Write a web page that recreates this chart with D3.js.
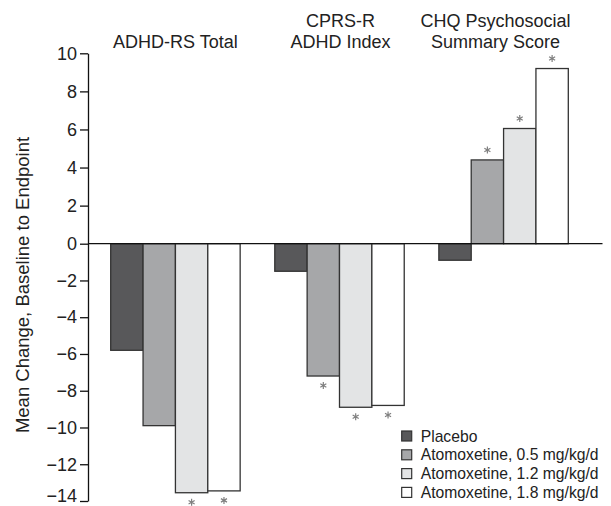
<!DOCTYPE html>
<html>
<head>
<meta charset="utf-8">
<script src="https://cdn.jsdelivr.net/npm/d3@7"></script>
<style>
  body { margin: 0; background: #fff; }
  svg { display: block; font-family: "Liberation Sans", Arial, Helvetica, sans-serif; }
</style>
</head>
<body>
<svg id="chart" width="611" height="506"></svg>
<script>

// measures (one per group of bars)
let measures = ["ADHD-RS Total", "CPRS-R ADHD Index", "CHQ Psychosocial Summary Score"];
let titleLines = [["ADHD-RS Total"], ["CPRS-R", "ADHD Index"], ["CHQ Psychosocial", "Summary Score"]];

let series = ["Placebo", "Atomoxetine, 0.5 mg/kg/d", "Atomoxetine, 1.2 mg/kg/d", "Atomoxetine, 1.8 mg/kg/d"];

let placebo = [-5.8, -1.5, -0.9];
let atx05 = [-9.9, -7.2, 4.4];
let atx12 = [-13.55, -8.9, 6.05];
let atx18 = [-13.45, -8.8, 9.2];

// * = significant vs placebo
let sig05 = [false, true, true];
let sig12 = [true, true, true];
let sig18 = [true, true, true];

let yTicks = [10, 8, 6, 4, 2, 0, -2, -4, -6, -8, -10, -12, -14];

let colors = ["#58585a", "#a6a7a9", "#e3e4e5", "#ffffff"];


let svg = d3.select("#chart");

// the scan is a little taller above zero than below it
let y = d3.scaleLinear()
    .domain([-14, 0, 10])
    .range([501, 243.7, 53.3]);

let x0 = d3.scaleBand()
    .domain(measures)
    .range([110.7, 568.3])
    .paddingInner(0.211)
    .paddingOuter(0);

let x1 = d3.scaleBand()
    .domain(series)
    .range([0, x0.bandwidth()]);

let allValues = [placebo, atx05, atx12, atx18];
let allSig = [[false, false, false], sig05, sig12, sig18];

let rows = [];
measures.forEach((m, i) => {
  series.forEach((s, j) => {
    rows.push({measure: m, series: s, value: allValues[j][i], sig: allSig[j][i], color: colors[j]});
  });
});


// bars
svg.append("g")
  .selectAll("rect")
  .data(rows)
  .join("rect")
    .attr("x", d => x0(d.measure) + x1(d.series))
    .attr("y", d => y(Math.max(0, d.value)))
    .attr("width", x1.bandwidth())
    .attr("height", d => Math.abs(y(d.value) - y(0)))
    .attr("fill", d => d.color)
    .attr("stroke", "#333")
    .attr("stroke-width", 1.3);

// significance asterisks, drawn as little star marks
let star = d3.symbol().type(d3.symbolAsterisk || d3.symbolCross).size(34);

svg.append("g")
  .selectAll("path")
  .data(rows.filter(d => d.sig))
  .join("path")
    .attr("transform", d => {
      let cx = x0(d.measure) + x1(d.series) + x1.bandwidth() / 2;
      let cy = d.value > 0 ? y(d.value) - 10 : y(d.value) + 9.5;
      return `translate(${cx},${cy})`;
    })
    .attr("d", star)
    .attr("fill", "none")
    .attr("stroke", "#808080")
    .attr("stroke-width", 1.2);

// zero line
svg.append("line")
  .attr("x1", 88).attr("x2", 602.5)
  .attr("y1", y(0)).attr("y2", y(0))
  .attr("stroke", "#111")
  .attr("stroke-width", 1.3);

// y axis
let yAxis = svg.append("g")
  .attr("transform", "translate(88,0)")
  .call(d3.axisLeft(y).tickValues(yTicks).tickSize(8).tickSizeOuter(0).tickPadding(3));

yAxis.select(".domain").attr("stroke", "#111").attr("stroke-width", 1.3);
yAxis.selectAll(".tick line").attr("stroke", "#111").attr("stroke-width", 1.3);
yAxis.selectAll(".tick text")
  .attr("font-size", 18)
  .attr("font-family", "Liberation Sans, Arial, sans-serif")
  .attr("fill", "#222");

// bottom label sits right on the edge, lift it a bit so it isn't clipped
yAxis.selectAll(".tick text")
  .filter(d => d === -14)
  .attr("y", -5);

svg.append("text")
  .attr("transform", "translate(29,285) rotate(-90)")
  .attr("text-anchor", "middle")
  .attr("font-size", 18.5)
  .attr("fill", "#222")
  .text("Mean Change, Baseline to Endpoint");

// group titles
let titleShift = [0, 1, -8];
measures.forEach((m, i) => {
  let lines = titleLines[i];
  let cx = x0(m) + x0.bandwidth() / 2 + titleShift[i];
  let t = svg.append("text")
    .attr("text-anchor", "middle")
    .attr("font-size", 18)
    .attr("fill", "#222");
  lines.forEach((l, k) => {
    t.append("tspan")
      .attr("x", cx)
      .attr("y", 47.5 - (lines.length - 1 - k) * 20.7)
      .text(l);
  });
});

// legend
let legend = svg.append("g")
  .attr("transform", "translate(401.7,436)");

let li = legend.selectAll("g")
  .data(series)
  .join("g")
    .attr("transform", (d, i) => `translate(0,${i * 18.8})`);

li.append("rect")
  .attr("x", 0).attr("y", -5)
  .attr("width", 10).attr("height", 10)
  .attr("fill", (d, i) => colors[i])
  .attr("stroke", "#333")
  .attr("stroke-width", 1.2);

li.append("text")
  .attr("x", 19)
  .attr("y", 5.5)
  .attr("font-size", 15.7)
  .attr("fill", "#222")
  .text(d => d);

</script>
</body>
</html>
